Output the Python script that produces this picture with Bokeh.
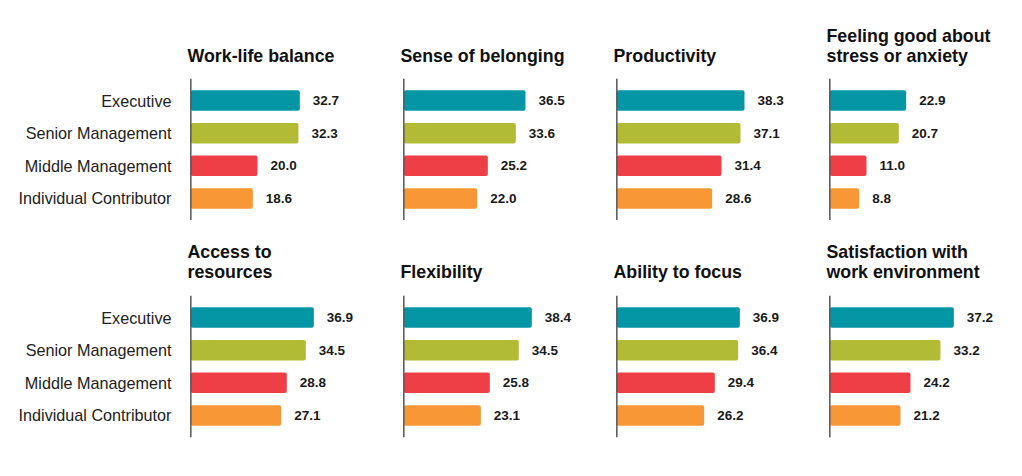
from bokeh.plotting import figure
from bokeh.layouts import column, row
from bokeh.models import FactorRange, Range1d, Span, ColumnDataSource
from bokeh.core.properties import value
from bokeh.embed import file_html
from bokeh.resources import INLINE

categories = ["Executive", "Senior Management", "Middle Management", "Individual Contributor"]
colors = ["#0596a5", "#b2bb35", "#ee3f46", "#f89736"]

work_life = [32.7, 32.3, 20.0, 18.6]
belonging = [36.5, 33.6, 25.2, 22.0]
productivity = [38.3, 37.1, 31.4, 28.6]
stress = [22.9, 20.7, 11.0, 8.8]
resources = [36.9, 34.5, 28.8, 27.1]
flexibility = [38.4, 34.5, 25.8, 23.1]
focus = [36.9, 36.4, 29.4, 26.2]
environment = [37.2, 33.2, 24.2, 21.2]

titles = [
    "Work-life balance", "Sense of belonging", "Productivity", "Feeling good about\nstress or anxiety",
    "Access to\nresources", "Flexibility", "Ability to focus", "Satisfaction with\nwork environment",
]
series = [work_life, belonging, productivity, stress, resources, flexibility, focus, environment]

FONT = "Liberation Sans"
PX_PER_UNIT = 188 / 56.4


def make_panel(title, vals, col, rowi):
    frame_w = 170 if col == 3 else 188
    left = 189 if col == 0 else 25
    top = 78 if rowi == 0 else 75
    bottom = 0 if rowi == 0 else 12
    x_end = frame_w / PX_PER_UNIT - 0.4
    p = figure(
        width=left + frame_w, height=top + 142 + bottom,
        y_range=FactorRange(factors=categories[::-1], range_padding=0.089),
        x_range=Range1d(-0.4, x_end),
        output_backend="svg", toolbar_location=None,
        x_axis_location=None, y_axis_location=("left" if col == 0 else None),
        min_border_left=left, min_border_right=0, min_border_top=top, min_border_bottom=bottom,
        title=title,
    )
    p.outline_line_color = None
    p.grid.visible = False
    p.background_fill_color = "white"
    p.border_fill_color = "white"
    p.title.align = "left"
    p.title.offset = -2
    p.title.text_font = FONT
    p.title.text_font_style = "bold"
    p.title.text_font_size = "17.8px"
    p.title.text_color = "#111111"
    p.title.standoff = 25 if rowi == 0 else 28
    if col == 0:
        ax = p.yaxis[0]
        ax.axis_line_color = None
        ax.major_tick_line_color = None
        ax.minor_tick_line_color = None
        ax.major_label_standoff = 12
        ax.major_label_text_font = FONT
        ax.major_label_text_font_size = "16.2px"
        ax.major_label_text_font_style = "normal"
        ax.major_label_text_color = "#222222"
    src = ColumnDataSource(dict(
        cat=categories, val=vals, color=colors, label=[f"{v:.1f}" for v in vals],
    ))
    p.hbar(y="cat", right="val", left=0, height=0.63, color="color", source=src,
           line_color=None, border_radius=2)
    p.text(x="val", y="cat", text="label", source=src, x_offset=13,
           text_baseline="middle", text_align="left",
           text_font=value(FONT), text_font_style="bold", text_font_size="13.5px",
           text_color="#1a1a1a")
    p.add_layout(Span(location=0, dimension="height", line_color="#555555", line_width=1.5))
    return p


rows = []
for r in range(2):
    rows.append(row([make_panel(titles[r * 4 + c], series[r * 4 + c], c, r) for c in range(4)], spacing=0))

layout = column(rows, spacing=0)
open("out.html", "w").write(file_html(layout, INLINE))
